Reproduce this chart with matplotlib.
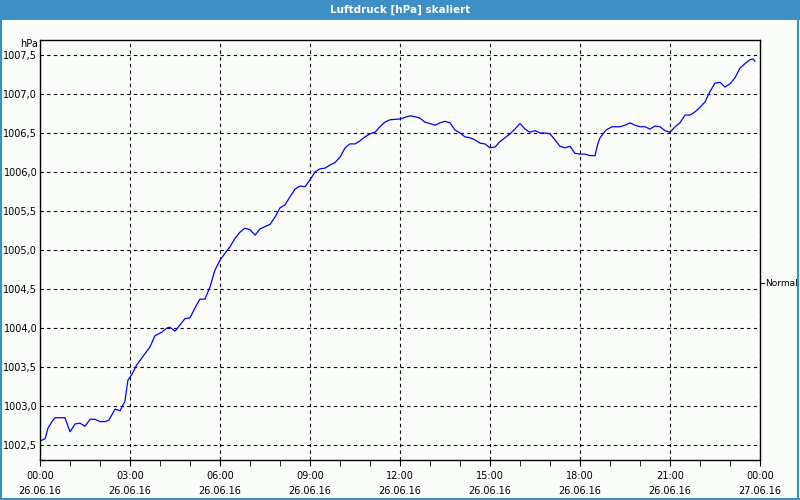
import matplotlib
matplotlib.use('Agg')
import matplotlib.pyplot as plt
import numpy as np
from matplotlib.patches import Rectangle
from matplotlib.lines import Line2D
from matplotlib.ticker import FixedLocator, FuncFormatter

# hours since 26.06.16 00:00, pressure in hPa
hours = [0, 0.17, 0.27, 0.4, 0.5, 0.83, 1.0, 1.17, 1.33, 1.5, 1.67, 1.83, 2.0, 2.17, 2.3,
         2.5, 2.67, 2.83, 2.93, 3.07, 3.23, 3.67, 3.83, 4.07, 4.23, 4.33, 4.5, 4.67, 4.83,
         5.0, 5.17, 5.33, 5.5, 5.67, 5.83, 6.0, 6.17, 6.33, 6.5, 6.67, 6.83, 7.0, 7.17,
         7.33, 7.5, 7.67, 7.83, 8.0, 8.17, 8.33, 8.5, 8.67, 8.83, 9.0, 9.17, 9.33, 9.5,
         9.67, 9.83, 10.0, 10.17, 10.33, 10.5, 10.67, 10.83, 11.0, 11.17, 11.33, 11.5,
         11.67, 12.0, 12.33, 12.5, 12.67, 12.83, 13.0, 13.17, 13.33, 13.5, 13.67, 13.83,
         14.0, 14.17, 14.33, 14.5, 14.67, 14.83, 15.0, 15.17, 15.33, 15.5, 15.67, 15.83,
         16.0, 16.17, 16.33, 16.5, 16.67, 16.83, 17.0, 17.17, 17.33, 17.5, 17.67, 17.83,
         18.0, 18.17, 18.33, 18.5, 18.6, 18.67, 18.87, 19.07, 19.33, 19.5, 19.67, 19.83,
         20.0, 20.17, 20.33, 20.5, 20.67, 20.83, 21.0, 21.17, 21.33, 21.5, 21.67, 21.83,
         22.0, 22.17, 22.33, 22.5, 22.67, 22.83, 23.0, 23.17, 23.33, 23.5, 23.67, 23.77, 23.83]
pressure = [1002.55, 1002.58, 1002.72, 1002.80, 1002.85, 1002.85, 1002.67, 1002.77, 1002.78,
            1002.74, 1002.83, 1002.83, 1002.80, 1002.80, 1002.82, 1002.96, 1002.94, 1003.06,
            1003.33, 1003.41, 1003.53, 1003.76, 1003.90, 1003.95, 1004.00, 1004.01, 1003.96,
            1004.04, 1004.12, 1004.13, 1004.26, 1004.37, 1004.37, 1004.53, 1004.74, 1004.87,
            1004.96, 1005.04, 1005.15, 1005.23, 1005.28, 1005.26, 1005.19, 1005.27, 1005.30,
            1005.33, 1005.42, 1005.54, 1005.58, 1005.68, 1005.78, 1005.82, 1005.81, 1005.90,
            1006.00, 1006.04, 1006.05, 1006.09, 1006.12, 1006.19, 1006.31, 1006.36, 1006.36,
            1006.40, 1006.45, 1006.49, 1006.51, 1006.58, 1006.64, 1006.67, 1006.68, 1006.72,
            1006.71, 1006.69, 1006.64, 1006.62, 1006.60, 1006.63, 1006.65, 1006.63, 1006.54,
            1006.50, 1006.45, 1006.44, 1006.41, 1006.37, 1006.36, 1006.31, 1006.32, 1006.39,
            1006.44, 1006.49, 1006.55, 1006.62, 1006.55, 1006.51, 1006.53, 1006.50, 1006.50,
            1006.49, 1006.41, 1006.33, 1006.31, 1006.33, 1006.24, 1006.23, 1006.23, 1006.21,
            1006.21, 1006.37, 1006.44, 1006.54, 1006.58, 1006.58, 1006.60, 1006.63, 1006.60,
            1006.58, 1006.58, 1006.55, 1006.59, 1006.58, 1006.53, 1006.51, 1006.58, 1006.63,
            1006.73, 1006.73, 1006.77, 1006.83, 1006.90, 1007.03, 1007.14, 1007.15, 1007.09,
            1007.13, 1007.21, 1007.33, 1007.39, 1007.44, 1007.45, 1007.42]

x_ticks = [0, 3, 6, 9, 12, 15, 18, 21, 24]
x_labels = ['00:00\n26.06.16', '03:00\n26.06.16', '06:00\n26.06.16', '09:00\n26.06.16',
            '12:00\n26.06.16', '15:00\n26.06.16', '18:00\n26.06.16', '21:00\n26.06.16',
            '00:00\n27.06.16']
y_ticks = [1002.5, 1003.0, 1003.5, 1004.0, 1004.5, 1005.0, 1005.5, 1006.0, 1006.5, 1007.0, 1007.5]

bg = '#fbfdfb'
bar = '#3d8fc6'

fig = plt.figure(figsize=(8, 5), dpi=100, facecolor=bg)

# title bar and window border
fig.patches.append(Rectangle((0, 0.96), 1, 0.04, transform=fig.transFigure,
                             facecolor=bar, edgecolor='none', zorder=0))
fig.text(0.5, 0.98, 'Luftdruck [hPa] skaliert', color='white', ha='center', va='center',
         fontsize=7.5, fontweight='bold')
for xs, ys in [([0.001, 0.001], [0, 1]), ([0.998, 0.998], [0, 1]), ([0, 1], [0.002, 0.002])]:
    fig.add_artist(Line2D(xs, ys, transform=fig.transFigure, color=bar, lw=1.5))

ax = fig.add_axes([0.05, 0.08, 0.90, 0.84], facecolor=bg)
ax.plot(hours, pressure, color='#0000ff', lw=0.9)

ax.set_xlim(0, 24)
ax.set_ylim(1002.5 - 15 / 78, 1007.5 + 15 / 78)
ax.set_xticks(x_ticks)
ax.set_xticklabels(x_labels, fontsize=7, linespacing=1.55)
ax.xaxis.set_minor_locator(FixedLocator(np.arange(0, 25, 1)))
ax.set_yticks(y_ticks)
ax.yaxis.set_major_formatter(FuncFormatter(lambda v, p: ('%.1f' % v).replace('.', ',')))
ax.tick_params(axis='y', labelsize=7, length=0, pad=2)
ax.tick_params(axis='x', which='both', length=4, direction='out', pad=4)

ax.grid(True, which='major', color='black', linestyle=(0, (3, 3)), lw=0.8)
for s in ax.spines.values():
    s.set_linewidth(1.0)

fig.text(0.048, 0.912, 'hPa', ha='right', va='center', fontsize=7)
fig.add_artist(Line2D([0.951, 0.955], [0.434, 0.434], transform=fig.transFigure, color='black', lw=0.8))
fig.text(0.957, 0.434, 'Normal', ha='left', va='center', fontsize=6.5)

plt.savefig('out.png', dpi=100, facecolor=bg)
